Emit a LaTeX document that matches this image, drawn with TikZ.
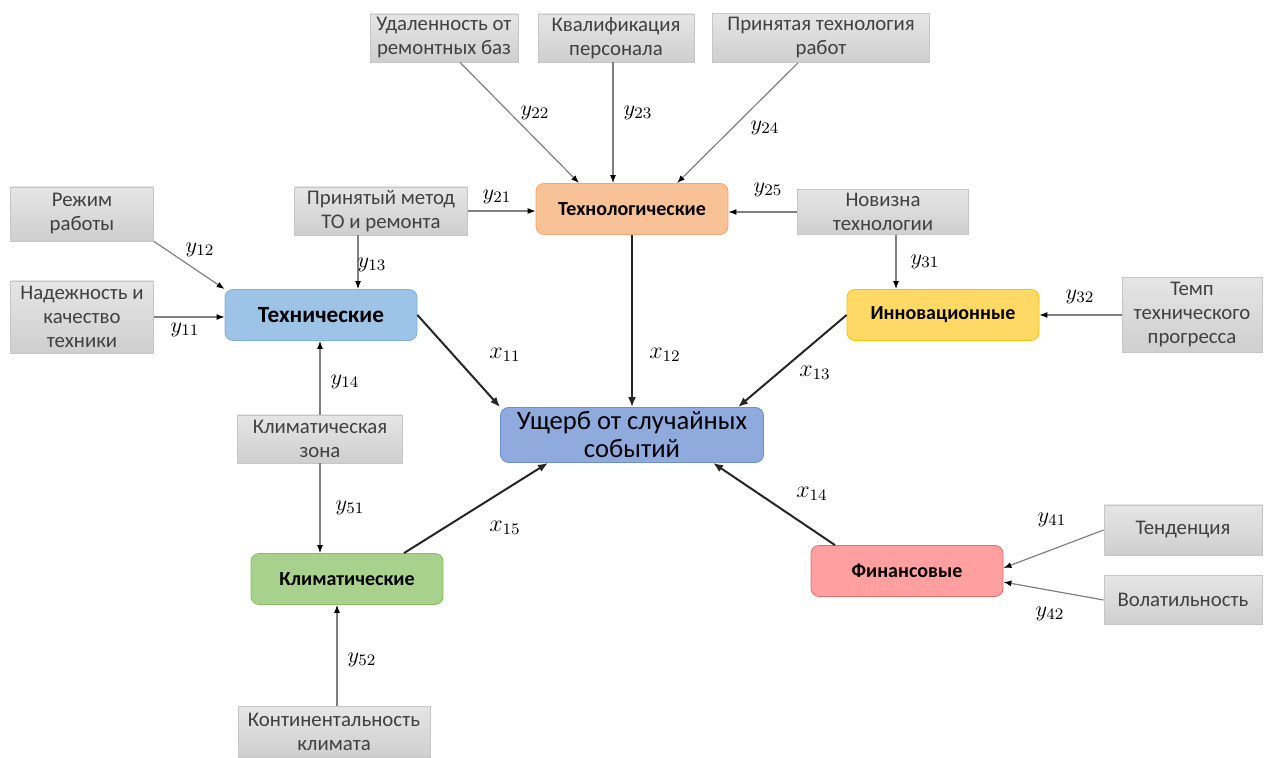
\documentclass[tikz,border=0pt]{standalone}
\usepackage{fontspec}
\setmainfont{Carlito}
\usetikzlibrary{arrows.meta,positioning}
\definecolor{techfill}{HTML}{9DC3E6}
\definecolor{techdraw}{HTML}{7FAFDC}
\definecolor{tgfill}{HTML}{F8C196}
\definecolor{tgdraw}{HTML}{F2A76E}
\definecolor{innfill}{HTML}{FFD966}
\definecolor{inndraw}{HTML}{FFC000}
\definecolor{dmgfill}{HTML}{8FAADC}
\definecolor{dmgdraw}{HTML}{6A8FD2}
\definecolor{climfill}{HTML}{A9D18E}
\definecolor{climdraw}{HTML}{86BE62}
\definecolor{finfill}{HTML}{FF9F9F}
\definecolor{findraw}{HTML}{E46C6C}
\definecolor{facttext}{HTML}{404040}
\begin{document}
\begin{tikzpicture}[x=0.5pt, y=-0.5pt,
  factor/.style={draw=gray!45, top color=gray!20, bottom color=gray!38, align=center, text=facttext, inner sep=1pt, font=\fontsize{10.4}{12}\selectfont},
  group/.style={draw, rounded corners=4pt, align=center, minimum width=96pt, minimum height=25.5pt, inner sep=1pt, font=\fontsize{10}{12}\selectfont\bfseries},
  lab/.style={inner sep=0pt, font=\fontsize{11}{13}\selectfont},
  xlab/.style={inner sep=0pt, font=\fontsize{12}{14}\selectfont},
  inarr/.style={-{Latex[length=4pt,width=3pt,color=black]}, draw=black!50, line width=0.6pt},
  outarr/.style={-{Latex[length=5pt,width=4pt]}, draw=black!85, line width=1pt}]
\useasboundingbox (0,0) rectangle (1264,758);
\node[group, fill=dmgfill, draw=dmgdraw, minimum width=131.5pt, minimum height=27.5pt, font=\fontsize{13.3}{14}\selectfont] (dmg) at (632,435) {Ущерб от случайных\\событий};
\node[group, fill=techfill, draw=techdraw, font=\fontsize{11.6}{13}\selectfont\bfseries] (tech) at (321,315) {Технические};
\node[group, fill=tgfill, draw=tgdraw] (techn) at (632,209) {Технологические};
\node[group, fill=innfill, draw=inndraw] (innov) at (943,315) {Инновационные};
\node[group, fill=climfill, draw=climdraw] (clim) at (347,579) {Климатические};
\node[group, fill=finfill, draw=findraw] (fin) at (907,571) {Финансовые};
\node[factor, minimum width=71.5pt, minimum height=27pt] (mode) at (82,214) {Режим\\работы};
\node[factor, minimum width=71.5pt, minimum height=36pt] (rel) at (82,317) {Надежность и\\качество\\техники};
\node[factor, minimum width=86.5pt, minimum height=24pt] (method) at (381,211) {Принятый метод\\ТО и ремонта};
\node[factor, minimum width=74pt, minimum height=24pt] (dist) at (444,38) {Удаленность от\\ремонтных баз};
\node[factor, minimum width=78pt, minimum height=24pt] (qual) at (616,38) {Квалификация\\персонала};
\node[factor, minimum width=108.5pt, minimum height=24.5pt] (worktech) at (821,38) {Принятая технология\\работ};
\node[factor, minimum width=85.5pt, minimum height=22.5pt] (nov) at (883,212) {Новизна\\технологии};
\node[factor, minimum width=70pt, minimum height=37.5pt] (pace) at (1192,315) {Темп\\технического\\прогресса};
\node[factor, minimum width=82.5pt, minimum height=24pt] (zone) at (320,439) {Климатическая\\зона};
\node[factor, minimum width=79pt, minimum height=25pt] (trend) at (1183,530) {Тенденция};
\node[factor, minimum width=79pt, minimum height=24.5pt] (vol) at (1183,600) {Волатильность};
\node[factor, minimum width=96pt, minimum height=25.5pt] (cont) at (334,732) {Континентальность\\климата};
\draw[inarr] (mode.south east) -- (tech.north west);
\draw[inarr] (rel.east) -- (rel.east -| tech.west);
\draw[inarr] ([xshift=-11.5pt]method.south) -- ([xshift=-11.5pt]method.south |- tech.north);
\draw[inarr] (method.east) -- (method.east -| techn.west);
\draw[inarr] ([xshift=8pt]dist.south) -- ([xshift=-26.5pt]techn.north);
\draw[inarr] ([xshift=-1.5pt]qual.south) -- ([xshift=-1.5pt]qual.south |- techn.north);
\draw[inarr] ([xshift=-11.5pt]worktech.south) -- ([xshift=22.5pt]techn.north);
\draw[inarr] (nov.west) -- (nov.west -| techn.east);
\draw[inarr] ([xshift=6.5pt]nov.south) -- ([xshift=6.5pt]nov.south |- innov.north);
\draw[inarr] (pace.west) -- (pace.west -| innov.east);
\draw[inarr] (zone.north) -- (zone.north |- tech.south);
\draw[inarr] (zone.south) -- (zone.south |- clim.north);
\draw[inarr] ([xshift=1.5pt]cont.north) -- ([xshift=1.5pt]cont.north |- clim.south);
\draw[inarr] (trend.west) -- ([yshift=1.5pt]fin.east);
\draw[inarr] (vol.west) -- ([yshift=-5.5pt]fin.east);
\draw[outarr] (tech.east) -- (dmg.north west);
\draw[outarr] (techn.south) -- (dmg.north);
\draw[outarr] (innov.west) -- ([xshift=53pt]dmg.north);
\draw[outarr] ([xshift=28.5pt]clim.north) -- ([xshift=-42pt]dmg.south);
\draw[outarr] ([xshift=-36pt]fin.north) -- ([xshift=40.5pt]dmg.south);
\node[lab] (ly12) at (200,250) {$y_{12}$};
\node[lab] (ly11) at (185,330) {$y_{11}$};
\node[lab] (ly13) at (372,265) {$y_{13}$};
\node[lab] (ly21) at (497,197) {$y_{21}$};
\node[lab] (ly22) at (535,113) {$y_{22}$};
\node[lab] (ly23) at (638,113) {$y_{23}$};
\node[lab] (ly24) at (765,128) {$y_{24}$};
\node[lab] (ly25) at (768,190) {$y_{25}$};
\node[lab] (ly31) at (925,262) {$y_{31}$};
\node[lab] (ly32) at (1080,297) {$y_{32}$};
\node[lab] (ly14) at (345,382) {$y_{14}$};
\node[lab] (ly51) at (350,508) {$y_{51}$};
\node[lab] (ly52) at (362,660) {$y_{52}$};
\node[lab] (ly41) at (1052,520) {$y_{41}$};
\node[lab] (ly42) at (1050,614) {$y_{42}$};
\node[xlab] (lx11) at (505,355) {$x_{11}$};
\node[xlab] (lx12) at (665,355) {$x_{12}$};
\node[xlab] (lx13) at (815,373) {$x_{13}$};
\node[xlab] (lx14) at (812,494) {$x_{14}$};
\node[xlab] (lx15) at (505,528) {$x_{15}$};
\end{tikzpicture}
\end{document}
